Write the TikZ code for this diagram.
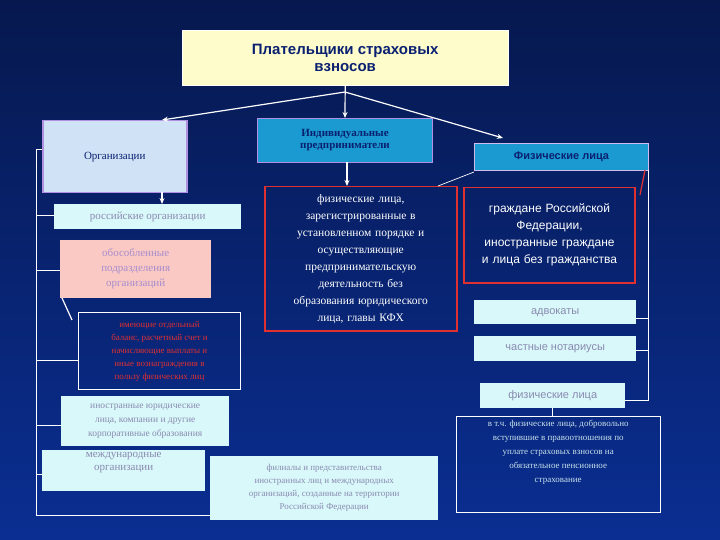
\documentclass[tikz,border=0pt]{standalone}
\usepackage{fontspec}
\setmainfont{Liberation Serif}
\newfontfamily\ls{Liberation Sans}
\usetikzlibrary{arrows.meta}
\definecolor{bgtop}{HTML}{06184E}
\definecolor{bgbot}{HTML}{0A2E92}
\definecolor{lcyan}{HTML}{D8F8FA}
\definecolor{lblue}{HTML}{CFE2F6}
\definecolor{cyanb}{HTML}{1A9AD0}
\definecolor{dkblue}{HTML}{0A2070}
\definecolor{pinkb}{HTML}{FBC9C4}
\definecolor{redb}{HTML}{E03030}
\definecolor{grayt}{HTML}{8A8AB0}
\definecolor{lav}{HTML}{B090E0}
\begin{document}
\begin{tikzpicture}[x=1pt,y=-1pt,
 box/.style={anchor=north west,inner sep=2pt,align=center},
 lbox/.style={box,fill=lcyan,text=grayt,font=\fontsize{11}{13}\selectfont},
 conn/.style={white,line width=1pt},
 arr/.style={white,line width=1.2pt,-{Stealth[length=6pt,width=5pt]}}]
\shade[top color=bgtop,bottom color=bgbot] (0,0) rectangle (720,540);
\useasboundingbox (0,0) rectangle (720,540);
% title
\node[box,fill=yellow!20,draw=white,minimum width=326pt,minimum height=55pt,font=\ls\bfseries\fontsize{15}{17}\selectfont,text=dkblue] (t) at (182,30) {Плательщики страховых\\взносов};
% main categories
\node[box,fill=lblue,draw=lav,line width=1.5pt,minimum width=144pt,minimum height=72pt,font=\fontsize{11}{13}\selectfont,text=dkblue] (org) at (42,120) {Организации};
\node[box,fill=cyanb,draw=lav,line width=1pt,minimum width=175pt,minimum height=44pt,font=\bfseries\fontsize{11}{12}\selectfont,text=dkblue] (ip) at (257,118) {Индивидуальные\\предприниматели};
\node[box,fill=cyanb,draw=lav!60,line width=1pt,minimum width=174pt,minimum height=27pt,font=\ls\bfseries\fontsize{11}{13}\selectfont,text=dkblue] (fl) at (474,143) {Физические лица};
% red boxes
\node[box,draw=redb,line width=1.5pt,minimum width=192pt,minimum height=144pt,text width=185pt,text=white,font=\fontsize{11.5}{17}\selectfont,anchor=north west] (ipd) at (264,186) {физические лица,\\ зарегистрированные в\\ установленном порядке и\\ осуществляющие\\ предпринимательскую\\ деятельность без\\ образования юридического\\ лица, главы КФХ};
\node[box,draw=redb,line width=1.5pt,minimum width=171pt,minimum height=95pt,text width=165pt,text=white,font=\ls\fontsize{12}{17}\selectfont,anchor=north,inner sep=3pt] (fld) at (549.5,187) {граждане Российской\\ Федерации,\\ иностранные граждане\\ и лица без гражданства};
% right list
\node[lbox,font=\ls\fontsize{11}{13}\selectfont,minimum width=162pt,minimum height=24pt] (adv) at (474,300) {адвокаты};
\node[lbox,font=\ls\fontsize{11}{13}\selectfont,minimum width=162pt,minimum height=25pt] (not) at (474,336) {частные нотариусы};
\node[lbox,font=\ls\fontsize{11}{13}\selectfont,minimum width=145pt,minimum height=25pt] (fl2) at (480,383) {физические лица};
\node[box,draw=white,minimum width=204pt,minimum height=96pt,text=lcyan!80!grayt,font=\fontsize{9}{14}\selectfont,anchor=north west,inner sep=4pt] (vol) at (456,416) {\begin{minipage}[t][88pt]{196pt}\centering в т.ч. физические лица, добровольно\\ вступившие в правоотношения по\\ уплате страховых взносов на\\ обязательное пенсионное\\ страхование\end{minipage}};
% left list
\node[lbox,minimum width=187pt,minimum height=25pt] (ros) at (54,204) {российские организации};
\node[lbox,fill=pinkb,text=lav!80!gray,minimum width=151pt,minimum height=58pt,font=\fontsize{11}{15}\selectfont] (obo) at (60,240) {обособленные\\подразделения\\организаций};
\node[box,draw=white,line width=1pt,minimum width=162pt,minimum height=77pt,text=redb,font=\fontsize{9}{13}\selectfont] (bal) at (78,312) {имеющие отдельный\\ баланс, расчетный счет и\\ начисляющие выплаты и\\ иные вознаграждения в\\ пользу физических лиц};
\node[lbox,minimum width=168pt,minimum height=50pt,font=\fontsize{9.5}{14}\selectfont] (ino) at (61,396) {иностранные юридические\\ лица, компании и другие\\ корпоративные образования};
\node[lbox,minimum width=163pt,minimum height=41pt,font=\fontsize{11}{13}\selectfont,anchor=north west] (mez) at (42,450) {\begin{minipage}[t][36pt]{155pt}\centering международные\\организации\end{minipage}};
\node[lbox,minimum width=228pt,minimum height=64pt,font=\fontsize{9}{13}\selectfont] (fil) at (210,456) {филиалы и представительства\\ иностранных лиц и международных\\ организаций, созданные на территории\\ Российской Федерации};
% arrows from title
\coordinate (hub) at (345,92);
\draw[arr] (t.south) -- (ip.north);
\draw[arr] (hub) -- (162,120);
\draw[arr] (hub) -- (503,138);
\draw[arr] (162,192) -- (ros.north -| 162,0);
\draw[arr] (347,162) -- (347,186);
% left bracket
\coordinate (lt) at (36,150); \coordinate (lb) at (36,515);
\draw[conn] (org.west |- lt) -- (lt) -- (lb) -- (fil.west |- lb);
\foreach \n/\y in {ros/216,obo/270,bal/360,ino/425,mez/474}
  \draw[conn] (36,\y) -- (\n.west |- 0,\y);
% right bracket
\draw[conn] (648,170) -- (648,400) -- (fl2.east |- 0,400);
\draw[conn] (adv.east |- 0,318) -- (648,318);
\draw[conn] (not.east |- 0,350) -- (648,350);
\draw[conn,line width=0.8pt] (552,408) -- (552,416);
% small lines
\draw[conn,line width=0.7pt] (474,172) -- (438,186);
\draw[redb,line width=1.2pt] (645,170) -- (640,195);
\draw[conn,line width=1.2pt] (62,298) -- (72,320);
\end{tikzpicture}
\end{document}
